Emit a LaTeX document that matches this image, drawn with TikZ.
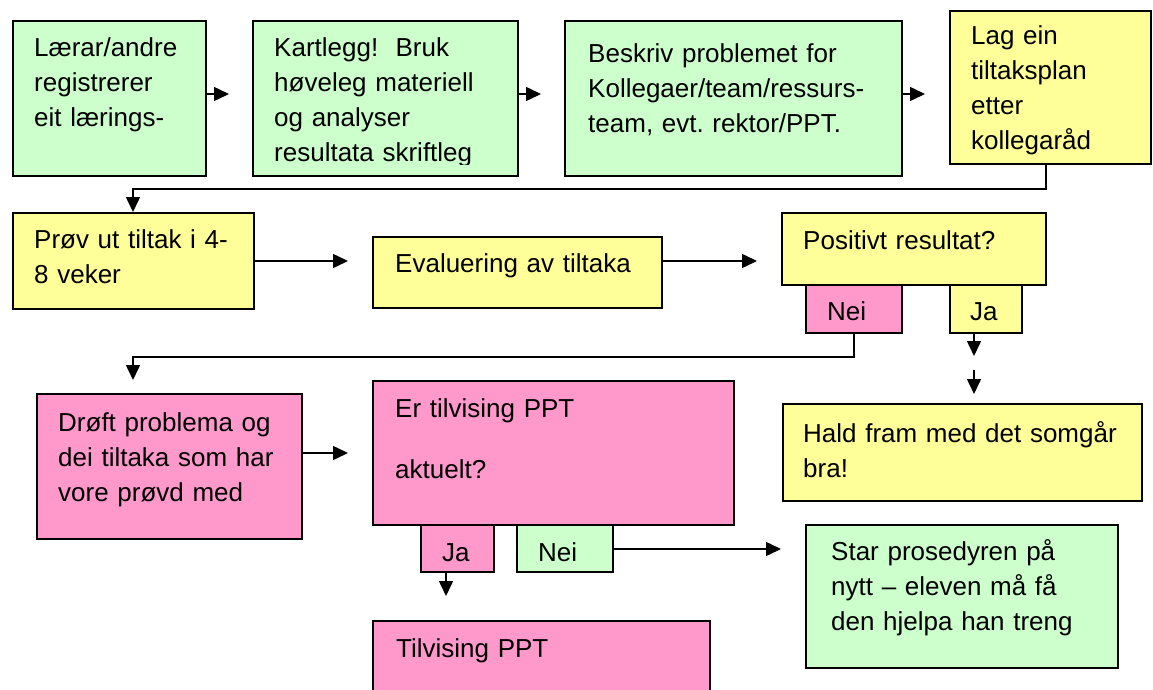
\documentclass[tikz,border=0pt]{standalone}
\usepackage{fontspec}
\setmainfont{Liberation Sans}
\usepackage{tikz}
\usetikzlibrary{arrows.meta}
\definecolor{gronn}{HTML}{CCFFCC}
\definecolor{gul}{HTML}{FFFF99}
\definecolor{rosa}{HTML}{FF99CC}
\frenchspacing

\begin{document}
\begin{tikzpicture}[x=1pt,y=-1pt,
    boks/.style={draw,line width=2pt,anchor=north west,inner sep=0pt,outer sep=0pt},
    tekst/.style={anchor=base west,inner sep=0pt,align=left,text width=12cm,font=\fontsize{26}{35}\selectfont},
    pil/.style={line width=1.5pt,-{Triangle[length=15pt,width=14pt]}}]
      \useasboundingbox(0,0)rectangle(1153,690);
      % boksar
      \node[boks,fill=gronn,minimum width=193pt,minimum height=155pt](b1)at(13,21){};
      \node[boks,fill=gronn,minimum width=265pt,minimum height=155pt](b2)at(253,21){};
      \node[boks,fill=gronn,minimum width=337pt,minimum height=155pt](b3)at(565,21){};
      \node[boks,fill=gul,minimum width=201pt,minimum height=153pt](b4)at(950,11){};
      \node[boks,fill=gul,minimum width=241pt,minimum height=96pt](b5)at(13,213){};
      \node[boks,fill=gul,minimum width=289pt,minimum height=71pt](b6)at(373,237){};
      \node[boks,fill=gul,minimum width=264pt,minimum height=72pt](b7)at(782,213){};
      \node[boks,fill=rosa,minimum width=96pt,minimum height=48pt](n1)at(806,285){};
      \node[boks,fill=gul,minimum width=72pt,minimum height=48pt](j1)at(950,285){};
      \node[boks,fill=rosa,minimum width=265pt,minimum height=145pt](b8)at(37,394){};
      \node[boks,fill=rosa,minimum width=361pt,minimum height=144pt](b9)at(373,381){};
      \node[boks,fill=rosa,minimum width=73pt,minimum height=47pt](j2)at(421,525){};
      \node[boks,fill=gronn,minimum width=96pt,minimum height=47pt](n2)at(517,525){};
      \node[boks,fill=rosa,minimum width=337pt,minimum height=80pt](b10)at(373,621){};
      \node[boks,fill=gul,minimum width=359pt,minimum height=97pt](b11)at(783,404){};
      \node[boks,fill=gronn,minimum width=312pt,minimum height=143pt](b12)at(806,525){};
      % tekst
      \node[tekst](t1)at(34,57){Lærar/andre\\registrerer\\eit lærings-};
      \begin{scope}
        \clip(253,21)rectangle(518,164);
        \node[tekst](t2)at(274,57){Kartlegg!\ \ Bruk\\høveleg materiell\\og analyser\\resultata skriftleg};
      \end{scope}
      \node[tekst](t3)at(588,63){Beskriv problemet for\\Kollegaer/team/ressurs-\\team, evt. rektor/PPT.};
      \begin{scope}
        \clip(950,11)rectangle(1151,161);
        \node[tekst](t4)at(971,45){Lag ein\\tiltaksplan\\etter\\kollegaråd};
      \end{scope}
      \node[tekst](t5)at(34,248){Prøv ut tiltak i 4-\\8 veker};
      \node[tekst](t6)at(395,272){Evaluering av tiltaka};
      \node[tekst](t7)at(803,249){Positivt resultat?};
      \node[tekst](t8)at(827,320){Nei};
      \node[tekst](t9)at(970,320){Ja};
      \node[tekst](t10)at(58,431){Drøft problema og\\dei tiltaka som har\\vore prøvd med};
      \node[tekst](t11)at(395,417){Er tilvising PPT\\[26pt]aktuelt?};
      \node[tekst](t12)at(442,561){Ja};
      \node[tekst](t13)at(538,561){Nei};
      \node[tekst](t14)at(396,657){Tilvising PPT};
      \node[tekst](t15)at(803,442){Hald fram med det somgår\\bra!};
      \node[tekst](t16)at(831,560){Star prosedyren på\\nytt – eleven må få\\den hjelpa han treng};
      % piler
      \coordinate(p1)at(229,94);
      \coordinate(p2)at(541,94);
      \coordinate(p3)at(925,94);
      \draw[pil](b1.east|-p1)--(p1);
      \draw[pil](b2.east|-p2)--(p2);
      \draw[pil](b3.east|-p3)--(p3);
      \coordinate(k1)at(1046,189);
      \coordinate(k2)at(133,212);
      \draw[pil](b4.south-|k1)--(k1)-|(k2);
      \coordinate(p5)at(348,261);
      \coordinate(p6)at(757,261);
      \draw[pil](b5.east|-p5)--(p5);
      \draw[pil](b6.east|-p6)--(p6);
      \coordinate(k3)at(854,357);
      \coordinate(k4)at(133,380);
      \draw[pil](n1.south-|k3)--(k3)-|(k4);
      \coordinate(k5)at(974,356);
      \coordinate(k6)at(974,370);
      \coordinate(k7)at(974,394);
      \draw[pil](j1.south-|k5)--(k5);
      \draw[pil](k6)--(k7);
      \coordinate(p9)at(348,453);
      \draw[pil](b8.east|-p9)--(p9);
      \coordinate(k8)at(446,596);
      \draw[pil](j2.south-|k8)--(k8);
      \coordinate(p11)at(781,549);
      \draw[pil](n2.east|-p11)--(p11);
\end{tikzpicture}
\end{document}
